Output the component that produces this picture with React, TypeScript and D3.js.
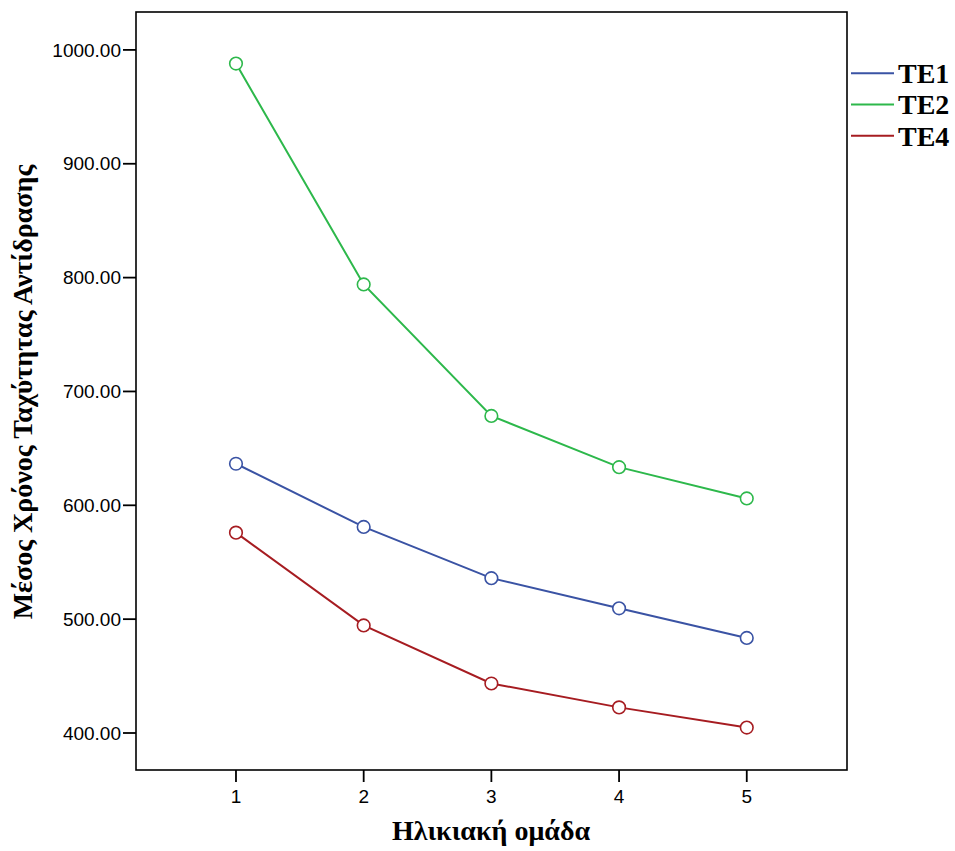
import React from "react";
import * as d3 from "d3";

const groups = [1, 2, 3, 4, 5];
const seriesNames = ["TE1", "TE2", "TE4"];
const te1 = [636.5, 581.0, 536.0, 509.5, 483.5];
const te2 = [988.0, 794.0, 678.5, 633.5, 606.0];
const te4 = [576.0, 494.5, 443.5, 422.5, 404.8];
const yTicks = [400, 500, 600, 700, 800, 900, 1000];
const colors = ["#3a53a4", "#2db84b", "#a61c21"];

const W = 955, H = 851;
const L = 136, R = 847, T = 12, B = 770;

export default function App() {
  const x = d3.scaleLinear().domain([0.217, 5.785]).range([L, R]);
  const y = d3.scaleLinear().domain([367.5, 1033.3]).range([B, T]);
  const series = [te1, te2, te4];
  const line = d3.line<number>().x((_, i) => x(groups[i])).y((v) => y(v));
  const serif = "'Liberation Serif', 'Times New Roman', serif";
  const sans = "'Liberation Sans', Arial, sans-serif";
  return (
    <svg width={W} height={H} style={{ position: "absolute", left: 0, top: 0, background: "#fff" }}>
      <rect x={0} y={0} width={W} height={H} fill="#fff" />
      <rect x={L} y={T} width={R - L} height={B - T} fill="none" stroke="#000" strokeWidth={1.6} />
      {yTicks.map((t) => (
        <g key={t}>
          <line x1={L - 13} x2={L} y1={y(t)} y2={y(t)} stroke="#000" strokeWidth={1.8} />
          <text x={L - 15} y={y(t)} dy="0.35em" textAnchor="end" fontFamily={sans} fontSize={19}>
            {d3.format(".2f")(t)}
          </text>
        </g>
      ))}
      {groups.map((g) => (
        <g key={g}>
          <line x1={x(g)} x2={x(g)} y1={B} y2={B + 12} stroke="#000" strokeWidth={1.8} />
          <text x={x(g)} y={B + 33} textAnchor="middle" fontFamily={sans} fontSize={19}>
            {g}
          </text>
        </g>
      ))}
      {series.map((s, si) => (
        <g key={si}>
          <path d={line(s) || ""} fill="none" stroke={colors[si]} strokeWidth={2} />
          {s.map((v, i) => (
            <circle key={i} cx={x(groups[i])} cy={y(v)} r={6.3} fill="#fff" stroke={colors[si]} strokeWidth={1.6} />
          ))}
        </g>
      ))}
      <text
        transform={`translate(32,392) rotate(-90)`}
        textAnchor="middle"
        fontFamily={serif}
        fontWeight="bold"
        fontSize={28}
      >
        Μέσος Χρόνος Ταχύτητας Αντίδρασης
      </text>
      <text x={491} y={840} textAnchor="middle" fontFamily={serif} fontWeight="bold" fontSize={28}>
        Ηλικιακή ομάδα
      </text>
      {seriesNames.map((n, i) => (
        <g key={n}>
          <line x1={851} x2={894} y1={73.3 + i * 31.2} y2={73.3 + i * 31.2} stroke={colors[i]} strokeWidth={2} />
          <text x={898} y={73.3 + i * 31.2} dy="0.35em" fontFamily={serif} fontWeight="bold" fontSize={28}>
            {n}
          </text>
        </g>
      ))}
    </svg>
  );
}
